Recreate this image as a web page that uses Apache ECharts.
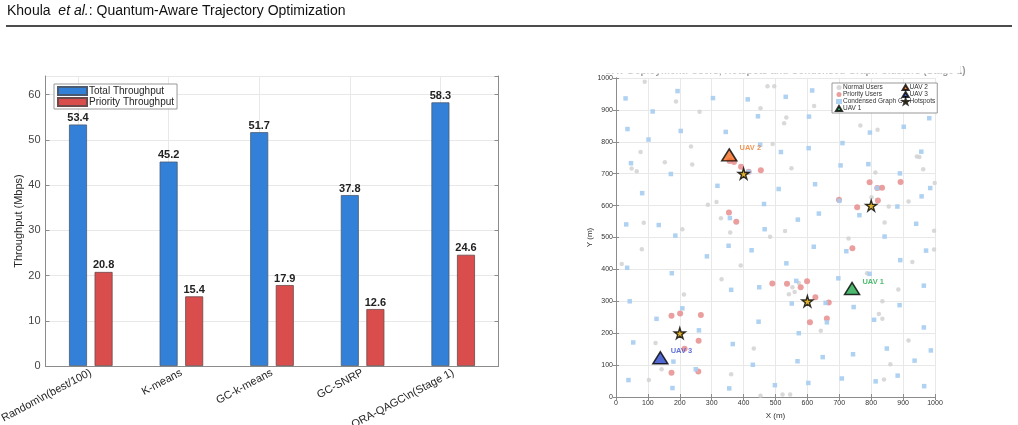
<!DOCTYPE html>
<html>
<head>
<meta charset="utf-8">
<script src="https://cdn.jsdelivr.net/npm/echarts@6/dist/echarts.min.js"></script>
<style>
  html, body { margin: 0; padding: 0; background: #fff; }
  #chart { width: 1018px; height: 425px; }
</style>
</head>
<body>
<div id="chart"></div>
<script>
// ---- bar chart data ----
var methods = ['Random\\n(best/100)', 'K-means', 'GC-k-means', 'GC-SNRP', 'QRA-QAGC\\n(Stage 1)'];
var totalThroughput = [53.4, 45.2, 51.7, 37.8, 58.3];
var priorityThroughput = [20.8, 15.4, 17.9, 12.6, 24.6];
var barTicks = [0, 10, 20, 30, 40, 50, 60];

// ---- scatter data (x, y in metres) ----
var normalUsers = [
  [90,988],[188,926],[262,894],[235,785],[77,768],[153,736],[239,729],[49,716],[65,708],[288,603],
  [315,611],[329,560],[87,546],[208,526],[81,463],[18,417],[331,369],[213,321],[124,169],[143,87],[103,53],
  [475,974],[496,974],[453,905],[621,912],[534,876],[527,858],[491,793],[550,717],[358,516],[530,520],
  [483,502],[391,412],[553,344],[573,357],[560,329],[542,322],[642,208],[432,152],[361,71],[453,4],[522,8],[546,8],
  [766,851],[820,838],[943,754],[951,752],[963,714],[813,704],[999,671],[801,626],[917,613],[855,597],
  [842,547],[997,521],[729,497],[997,462],[929,423],[787,388],[885,337],[835,300],[824,260],[835,245],
  [917,177],[860,103],[840,55]
];
var priorityUsers = [
  [174,255],[201,262],[266,257],[259,176],[215,151],[174,76],[258,80],
  [356,740],[370,737],[392,722],[416,706],[454,711],[354,578],[377,549],
  [490,356],[536,355],[599,363],[579,344],[625,313],[667,296],[661,246],[608,234],
  [795,673],[892,674],[819,655],[834,656],[699,618],[821,616],[756,595],[741,466]
];
var condensedGraph = [
  [193,959],[30,936],[304,937],[115,895],[36,840],[203,834],[102,807],[47,733],[172,699],[318,662],
  [82,639],[32,541],[134,539],[186,506],[285,441],[35,405],[175,388],[43,300],[208,278],[127,245],
  [260,209],[54,171],[180,111],[250,87],[39,53],[177,28],
  [615,961],[413,933],[532,941],[445,880],[605,879],[344,831],[452,791],[604,780],[517,768],[624,667],
  [510,652],[464,605],[636,575],[357,561],[570,556],[466,526],[353,474],[620,471],[425,460],[534,419],
  [361,336],[449,344],[565,364],[551,293],[657,295],[661,234],[447,236],[573,200],[366,166],[569,112],
  [648,125],[429,101],[355,27],[498,37],[603,44],[416,706],
  [982,874],[902,847],[796,829],[710,796],[957,769],[704,726],[791,730],[890,701],[985,655],[819,655],
  [700,615],[882,597],[958,629],[763,570],[941,543],[842,503],[722,457],[972,459],[891,429],[697,372],
  [795,386],[965,349],[745,282],[889,288],[809,242],[965,218],[849,152],[987,146],[743,134],[936,114],
  [708,58],[814,49],[883,67],[966,34]
];
var uav1 = [[740, 340]];
var uav2 = [[355, 759]];
var uav3 = [[139, 123]];
var hotspots = [[200,200],[400,700],[600,300],[800,600]];
var mapTicks = [0, 100, 200, 300, 400, 500, 600, 700, 800, 900, 1000];

var starPath = 'path://M50,0 L61,35 L98,35 L68,57 L79,91 L50,70 L21,91 L32,57 L2,35 L39,35 Z';

var myChart = echarts.init(document.getElementById('chart'));

var axisGrey = '#8c8c8c';
var gridGrey = '#e8e8e8';
var plainTick = function (v) { return mapTicks.indexOf(v) >= 0 ? String(v) : ''; };

function uavSeries(name, data, fill, labelColor) {
  return {
    name: name, type: 'scatter', xAxisIndex: 2, yAxisIndex: 2,
    symbol: 'triangle', symbolSize: [15, 12], z: 5,
    itemStyle: { color: fill, borderColor: '#000', borderWidth: 1.5 },
    label: {
      show: true, position: 'right', offset: [-3, -7], formatter: name,
      color: labelColor, fontSize: 7.5, fontWeight: 'bold', fontFamily: 'Liberation Sans'
    },
    data: data
  };
}

var option = {
  animation: false,
  backgroundColor: '#fff',
  textStyle: { fontFamily: 'Liberation Sans' },
  graphic: [
    {
      type: 'text', left: 7, top: 4,
      style: {
        text: '{a|Khoula  }{i|et al.}{a|: Quantum-Aware Trajectory Optimization}',
        rich: {
          a: { fontSize: 14, fontFamily: 'Liberation Sans', fill: '#111' },
          i: { fontSize: 14, fontFamily: 'Liberation Sans', fontStyle: 'italic', fill: '#111' }
        }
      }
    },
    { type: 'line', shape: { x1: 6, y1: 26, x2: 1012, y2: 26 }, style: { stroke: '#111', lineWidth: 1.3 } },
    // clipped subplot title at the top of the map
    {
      type: 'text', x: 785, y: 66, z: 50,
      style: {
        text: 'UAV Deployment: Users, Hotspots and Condensed Graph Clusters (Stage 1)',
        fontSize: 10, fontWeight: 'bold', fill: '#999', align: 'center',
        fontFamily: 'Liberation Sans'
      }
    },
    { type: 'rect', z: 100, shape: { x: 600, y: 40, width: 360, height: 33.5 }, style: { fill: '#fff' } }
  ],
  grid: [
    { left: 45.5, right: 519.5, top: 76, bottom: 59, outerBoundsMode: 'none', containLabel: false },
    { left: 616, right: 83, top: 78, bottom: 28, outerBoundsMode: 'none', containLabel: false }
  ],
  legend: [
    {
      data: ['Total Throughput', 'Priority Throughput'],
      left: 54, top: 84, orient: 'vertical', icon: 'rect',
      itemWidth: 29, itemHeight: 8, itemGap: 0,
      padding: [1.5, 3, 1.5, 3],
      borderColor: '#999', borderWidth: 1, backgroundColor: '#fff', borderRadius: 0,
      textStyle: { fontSize: 10, lineHeight: 11, color: '#262626', fontFamily: 'Liberation Sans', padding: [0, 0, 0, -3] }
    },
    {
      data: ['Normal Users', 'Priority Users', 'Condensed Graph C', 'UAV 1', 'UAV 2', 'UAV 3', 'Hotspots'],
      left: 832, top: 83, orient: 'vertical', height: 28,
      itemWidth: 6, itemHeight: 5, itemGap: 0,
      padding: [1, 2, 1, 3],
      borderColor: '#999', borderWidth: 1, backgroundColor: '#fff', borderRadius: 0,
      textStyle: { fontSize: 6.5, lineHeight: 7, color: '#333', fontFamily: 'Liberation Sans', padding: [0, 0, 0, -4] }
    }
  ],
  xAxis: [
    {
      type: 'category', gridIndex: 0, data: methods, position: 'bottom',
      axisLine: { lineStyle: { color: axisGrey } },
      axisTick: { alignWithLabel: true, inside: true, length: 4, lineStyle: { color: axisGrey } },
      axisLabel: { rotate: 28, fontSize: 11, color: '#262626', margin: 6, fontFamily: 'Liberation Sans' },
      splitLine: { show: false }
    },
    {
      type: 'category', gridIndex: 0, data: methods, position: 'top',
      axisLine: { lineStyle: { color: axisGrey } },
      axisTick: { alignWithLabel: true, inside: true, length: 4, lineStyle: { color: axisGrey } },
      axisLabel: { show: false }, splitLine: { show: false }
    },
    {
      type: 'value', gridIndex: 1, min: 0, max: 1000, interval: 100, position: 'bottom',
      name: 'X (m)', nameLocation: 'middle', nameGap: 10,
      nameTextStyle: { fontSize: 8, color: '#333', fontFamily: 'Liberation Sans' },
      axisLine: { lineStyle: { color: axisGrey } },
      axisTick: { inside: true, length: 3, lineStyle: { color: axisGrey } },
      axisLabel: { fontSize: 7, color: '#333', margin: 3, fontFamily: 'Liberation Sans', formatter: plainTick },
      splitLine: { show: true, lineStyle: { color: gridGrey } }
    },
    {
      type: 'value', gridIndex: 1, min: 0, max: 1000, interval: 100, position: 'top',
      axisLine: { lineStyle: { color: axisGrey } },
      axisTick: { inside: true, length: 3, lineStyle: { color: axisGrey } },
      axisLabel: { show: false }, splitLine: { show: false }
    }
  ],
  yAxis: [
    {
      type: 'value', gridIndex: 0, min: 0, max: 64.13, interval: 10, position: 'left',
      name: 'Throughput (Mbps)', nameLocation: 'middle', nameGap: 15,
      nameTextStyle: { fontSize: 11, color: '#262626', fontFamily: 'Liberation Sans' },
      axisLine: { show: true, lineStyle: { color: axisGrey } },
      axisTick: { show: true, inside: true, length: 4, lineStyle: { color: axisGrey } },
      axisLabel: {
        fontSize: 11, color: '#444', margin: 5, showMaxLabel: false, fontFamily: 'Liberation Sans',
        formatter: function (v) { return barTicks.indexOf(v) >= 0 ? String(v) : ''; }
      },
      splitLine: { show: true, lineStyle: { color: gridGrey } }
    },
    {
      type: 'value', gridIndex: 0, min: 0, max: 64.13, interval: 10, position: 'right',
      axisLine: { show: true, lineStyle: { color: axisGrey } },
      axisTick: { show: true, inside: true, length: 4, lineStyle: { color: axisGrey } },
      axisLabel: { show: false }, splitLine: { show: false }
    },
    {
      type: 'value', gridIndex: 1, min: 0, max: 1000, interval: 100, position: 'left',
      name: 'Y (m)', nameLocation: 'middle', nameGap: 16,
      nameTextStyle: { fontSize: 8, color: '#333', fontFamily: 'Liberation Sans' },
      axisLine: { show: true, lineStyle: { color: axisGrey } },
      axisTick: { show: true, inside: true, length: 3, lineStyle: { color: axisGrey } },
      axisLabel: { fontSize: 7, color: '#333', margin: 3, fontFamily: 'Liberation Sans', formatter: plainTick },
      splitLine: { show: true, lineStyle: { color: gridGrey } }
    },
    {
      type: 'value', gridIndex: 1, min: 0, max: 1000, interval: 100, position: 'right',
      axisLine: { show: true, lineStyle: { color: axisGrey } },
      axisTick: { show: true, inside: true, length: 3, lineStyle: { color: axisGrey } },
      axisLabel: { show: false }, splitLine: { show: false }
    }
  ],
  series: [
    {
      name: 'Total Throughput', type: 'bar', xAxisIndex: 0, yAxisIndex: 0,
      barWidth: 18, barGap: '42%',
      itemStyle: { color: '#3380d9', borderColor: '#4a5a70', borderWidth: 0.8 },
      label: {
        show: true, position: 'top', distance: 1, fontSize: 11, fontWeight: 'bold',
        color: '#222', formatter: function (p) { return p.value.toFixed(1); }
      },
      markLine: {
        silent: true, symbol: 'none', label: { show: false }, z: 0,
        lineStyle: { color: gridGrey, type: 'solid', width: 1 },
        data: methods.map(function (m) { return { xAxis: m }; })
      },
      data: totalThroughput
    },
    {
      name: 'Priority Throughput', type: 'bar', xAxisIndex: 0, yAxisIndex: 0,
      barWidth: 18, barGap: '42%',
      itemStyle: { color: '#d94d4d', borderColor: '#6a4a4a', borderWidth: 0.8 },
      label: {
        show: true, position: 'top', distance: 1, fontSize: 11, fontWeight: 'bold',
        color: '#222', formatter: function (p) { return p.value.toFixed(1); }
      },
      data: priorityThroughput
    },
    {
      name: 'Normal Users', type: 'scatter', xAxisIndex: 2, yAxisIndex: 2,
      symbol: 'circle', symbolSize: 4.5,
      itemStyle: { color: '#cfcfcf' },
      data: normalUsers
    },
    {
      name: 'Priority Users', type: 'scatter', xAxisIndex: 2, yAxisIndex: 2,
      symbol: 'circle', symbolSize: 6,
      itemStyle: { color: '#e68686' },
      data: priorityUsers
    },
    {
      name: 'Condensed Graph C', type: 'scatter', xAxisIndex: 2, yAxisIndex: 2,
      symbol: 'rect', symbolSize: 4.5,
      itemStyle: { color: '#a6cdf2', opacity: 0.9 },
      data: condensedGraph
    },
    uavSeries('UAV 1', uav1, '#1fa84b', '#22aa4a'),
    uavSeries('UAV 2', uav2, '#f26a1b', '#f07a2c'),
    uavSeries('UAV 3', uav3, '#2644c4', '#3a4ed0'),
    {
      name: 'Hotspots', type: 'scatter', xAxisIndex: 2, yAxisIndex: 2,
      symbol: starPath, symbolSize: 11, z: 6,
      itemStyle: { color: '#d9a300', borderColor: '#000', borderWidth: 1.4 },
      data: hotspots
    }
  ]
};

myChart.setOption(option);
</script>
</body>
</html>
